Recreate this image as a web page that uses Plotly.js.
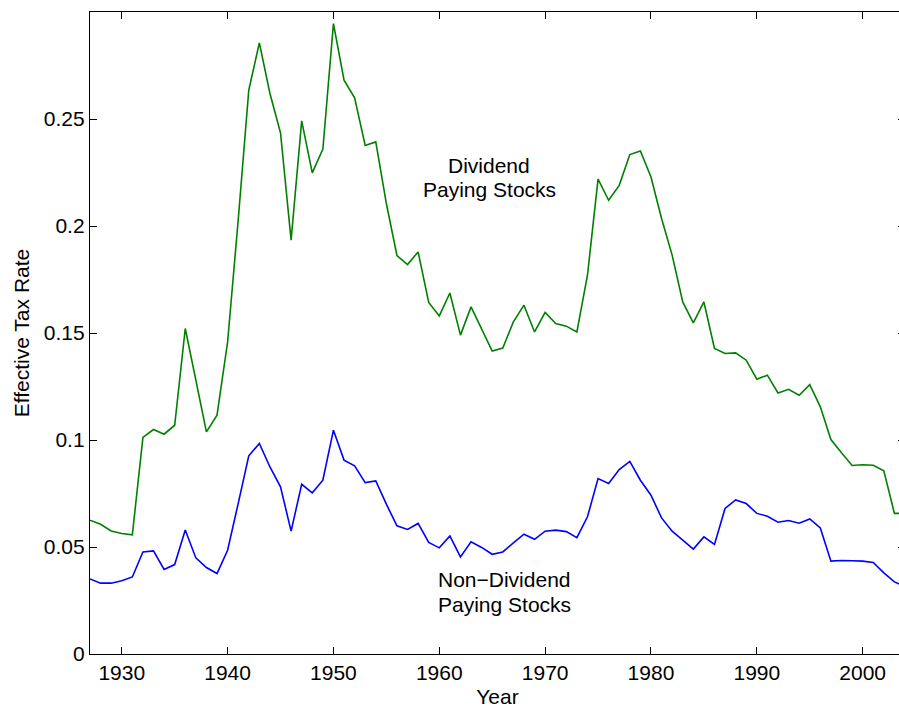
<!DOCTYPE html>
<html>
<head>
<meta charset="utf-8">
<script src="https://cdn.plot.ly/plotly-3.0.1.min.js"></script>
<style>
html, body { margin: 0; padding: 0; overflow: hidden; background: #fff; }
#chart { width: 906px; height: 709px; }
</style>
</head>
<body>
<div id="chart"></div>
<script>
const years = [];
for (let y = 1927; y <= 2004; y++) years.push(y);

const dividendPaying = [
  0.0625, 0.0606, 0.0575, 0.0563, 0.0557, 0.1012, 0.1049, 0.1027, 0.1069, 0.1521,
  0.1280, 0.1038, 0.1116, 0.1458, 0.2027, 0.2635, 0.2856, 0.2619, 0.2435, 0.1934,
  0.2491, 0.2248, 0.2359, 0.2946, 0.2681, 0.2599, 0.2376, 0.2393, 0.2105, 0.1862,
  0.1820, 0.1879, 0.1643, 0.1580, 0.1687, 0.1490, 0.1622, 0.1521, 0.1416, 0.1430,
  0.1552, 0.1630, 0.1505, 0.1596, 0.1544, 0.1532, 0.1505, 0.1770, 0.2219, 0.2120,
  0.2190, 0.2334, 0.2351, 0.2229, 0.2035, 0.1864, 0.1645, 0.1547, 0.1645, 0.1428,
  0.1404, 0.1407, 0.1373, 0.1284, 0.1303, 0.1220, 0.1237, 0.1209, 0.1259, 0.1155,
  0.1002, 0.0940, 0.0881, 0.0884, 0.0882, 0.0856, 0.0657, 0.0657
];

const nonDividendPaying = [
  0.0351, 0.0331, 0.0331, 0.0342, 0.0360, 0.0477, 0.0482, 0.0395, 0.0418, 0.0579,
  0.0449, 0.0404, 0.0376, 0.0485, 0.0703, 0.0926, 0.0984, 0.0874, 0.0781, 0.0574,
  0.0793, 0.0753, 0.0812, 0.1046, 0.0906, 0.0879, 0.0801, 0.0809, 0.0700, 0.0599,
  0.0582, 0.0610, 0.0521, 0.0496, 0.0552, 0.0454, 0.0524, 0.0498, 0.0466, 0.0477,
  0.0519, 0.0560, 0.0536, 0.0574, 0.0579, 0.0572, 0.0544, 0.0641, 0.0820, 0.0797,
  0.0862, 0.0900, 0.0812, 0.0742, 0.0636, 0.0574, 0.0532, 0.0490, 0.0547, 0.0512,
  0.0680, 0.0720, 0.0703, 0.0657, 0.0644, 0.0616, 0.0624, 0.0611, 0.0631, 0.0589,
  0.0434, 0.0437, 0.0436, 0.0434, 0.0428, 0.0379, 0.0337, 0.0315
];

const xTickVals = [1930, 1940, 1950, 1960, 1970, 1980, 1990, 2000];
const yTickVals = [0, 0.05, 0.1, 0.15, 0.2, 0.25];
const yTickText = ['0', '0.05', '0.1', '0.15', '0.2', '0.25'];

const font = { family: 'Liberation Sans, Arial, Helvetica, sans-serif', size: 21, color: '#000' };

const traces = [
  { x: years, y: dividendPaying, type: 'scatter', mode: 'lines',
    line: { color: '#008000', width: 1.6 }, hoverinfo: 'x+y' },
  { x: years, y: nonDividendPaying, type: 'scatter', mode: 'lines',
    line: { color: '#0000ff', width: 1.6 }, hoverinfo: 'x+y' }
];

function label(x, y, text) {
  return { x: x, y: y, xref: 'x', yref: 'y', showarrow: false,
           text: text, font: font, xanchor: 'center', yanchor: 'middle' };
}

const layout = {
  width: 906, height: 709,
  margin: { l: 90, r: 1, t: 12, b: 55, pad: 0 },
  paper_bgcolor: '#fff', plot_bgcolor: '#fff',
  showlegend: false,
  font: font,
  xaxis: {
    range: [1927, 2004], tickvals: xTickVals, ticktext: xTickVals.map(String),
    ticks: 'inside', ticklen: 7, tickwidth: 1, tickcolor: '#000',
    showline: true, linecolor: '#000', linewidth: 1.2, mirror: 'ticks',
    showgrid: false, zeroline: false, automargin: false,
    tickfont: font,
    title: { text: 'Year', font: font, standoff: 5 }
  },
  yaxis: {
    range: [0, 0.3], tickvals: yTickVals, ticktext: yTickText,
    ticks: 'inside', ticklen: 7, tickwidth: 1, tickcolor: '#000',
    showline: true, linecolor: '#000', linewidth: 1.2, mirror: 'ticks',
    showgrid: false, zeroline: false, automargin: false,
    tickfont: font,
    title: { text: 'Effective Tax Rate', font: font, standoff: 8 }
  },
  annotations: [
    label(1964.7, 0.2284, 'Dividend'),
    label(1964.7, 0.2170, 'Paying Stocks'),
    label(1966.2, 0.0347, 'Non\u2212Dividend'),
    label(1966.2, 0.0230, 'Paying Stocks')
  ]
};

Plotly.newPlot('chart', traces, layout, { displayModeBar: false, responsive: false, staticPlot: true });
</script>
</body>
</html>
